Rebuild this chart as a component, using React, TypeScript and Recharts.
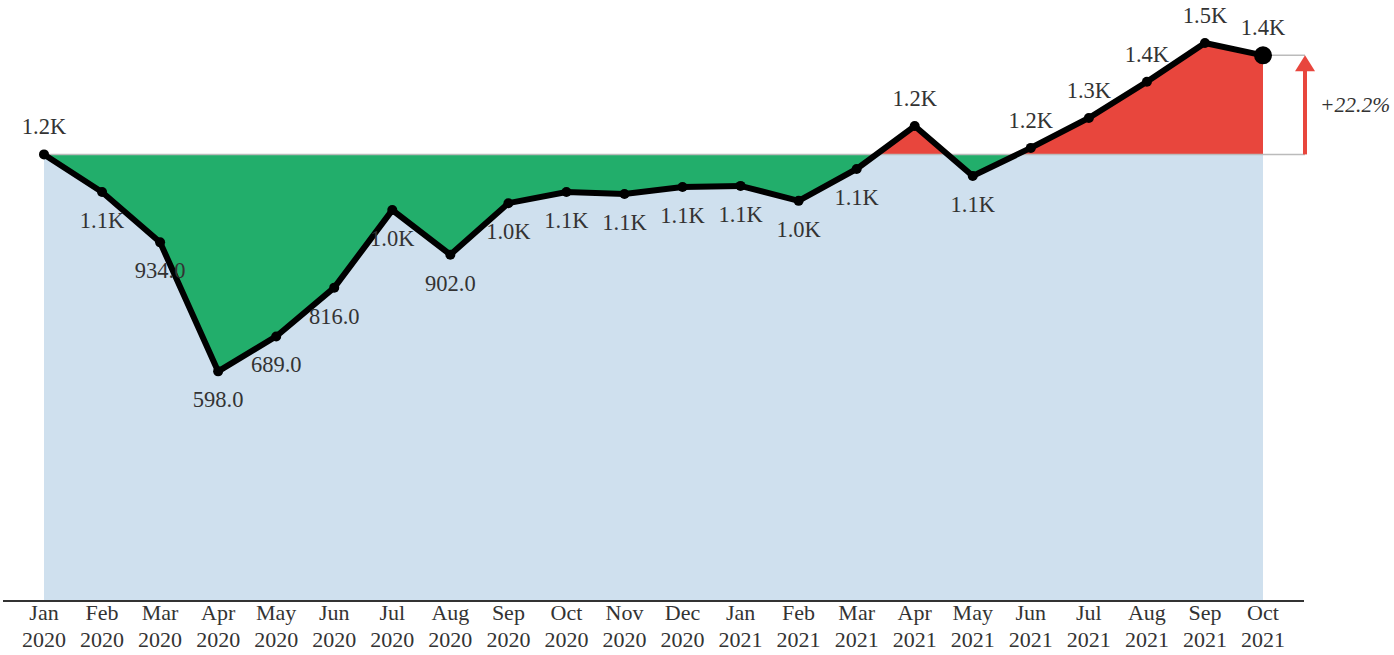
import {
  Area,
  ComposedChart,
  LabelList,
  Line,
  ReferenceLine,
  XAxis,
  YAxis,
} from "recharts";

const months = [
  "Jan", "Feb", "Mar", "Apr", "May", "Jun", "Jul", "Aug", "Sep", "Oct", "Nov", "Dec",
  "Jan", "Feb", "Mar", "Apr", "May", "Jun", "Jul", "Aug", "Sep", "Oct",
];
const years = [
  "2020", "2020", "2020", "2020", "2020", "2020", "2020", "2020", "2020", "2020", "2020", "2020",
  "2021", "2021", "2021", "2021", "2021", "2021", "2021", "2021", "2021", "2021",
];
const values = [
  1163, 1065, 934, 598, 689, 816, 1018, 902, 1036, 1065, 1060, 1078,
  1081, 1042, 1125, 1237, 1107, 1180, 1258, 1352, 1453, 1421,
];

const BASE = values[0];
const LAST = values[values.length - 1];
const change = ((LAST - BASE) / BASE) * 100;
const maxV = Math.max(...values);
const minV = Math.min(...values);
const splitOffset = (maxV - BASE) / (maxV - minV);

const data = months.map((m, i) => ({
  label: `${m} ${years[i]}`,
  value: values[i],
  base: BASE,
}));

const FONT = "'Liberation Serif', 'Times New Roman', serif";
const INK = "#333";

function fmt(v: number) {
  return v >= 1000 ? `${(v / 1000).toFixed(1)}K` : v.toFixed(1);
}

function Tick(props: any) {
  const { x, y, payload } = props;
  const [m, yr] = String(payload.value).split(" ");
  return (
    <text x={x} y={y} textAnchor="middle" fill={INK} fontFamily={FONT} fontSize={22}>
      <tspan x={x} dy={19}>{m}</tspan>
      <tspan x={x} dy={27}>{yr}</tspan>
    </text>
  );
}

function PointLabel(props: any) {
  const { x, y, value } = props;
  const above = value >= BASE;
  return (
    <text
      x={x}
      y={above ? y - 20 : y + 36}
      textAnchor="middle"
      fill={INK}
      fontFamily={FONT}
      fontSize={22.5}
    >
      {fmt(value)}
    </text>
  );
}

function Dot(props: any) {
  const { cx, cy, index } = props;
  const last = index === values.length - 1;
  return <circle key={index} cx={cx} cy={cy} r={last ? 9 : 5} fill="#000" />;
}

function ChangeMarker(props: any) {
  const { x1, y1, y2 } = props;
  const ax = x1 + 42;
  return (
    <g>
      <line x1={x1} y1={y1} x2={ax} y2={y1} stroke="#bbb" strokeWidth={1.5} />
      <line x1={x1} y1={y2} x2={ax} y2={y2} stroke="#bbb" strokeWidth={1.5} />
      <line x1={ax} y1={y1} x2={ax} y2={y2 + 14} stroke="#e8463d" strokeWidth={4} />
      <polygon points={`${ax - 10},${y2 + 16} ${ax + 10},${y2 + 16} ${ax},${y2}`} fill="#e8463d" />
      <text
        x={ax + 15}
        y={(y1 + y2) / 2 + 7}
        fill={INK}
        fontFamily={FONT}
        fontSize={21.5}
        fontStyle="italic"
      >
        {`${change >= 0 ? "+" : ""}${change.toFixed(1)}%`}
      </text>
    </g>
  );
}

export default function App() {
  return (
    <div style={{ position: "absolute", left: 0, top: 0 }}>
      <ComposedChart
        width={1394}
        height={655}
        data={data}
        margin={{ top: 25, right: 90, bottom: 0, left: 3 }}
      >
        <defs>
          <linearGradient id="splitFill" x1="0" y1="0" x2="0" y2="1">
            <stop offset={0} stopColor="#e8463d" />
            <stop offset={splitOffset} stopColor="#e8463d" />
            <stop offset={splitOffset} stopColor="#22ae6b" />
            <stop offset={1} stopColor="#22ae6b" />
          </linearGradient>
        </defs>
        <XAxis
          dataKey="label"
          interval={0}
          padding={{ left: 41, right: 41 }}
          height={54}
          tickLine={false}
          tickSize={0}
          tickMargin={0}
          axisLine={{ stroke: "#333", strokeWidth: 2 }}
          tick={<Tick />}
        />
        <YAxis hide domain={[0, 1500]} />
        <Area
          type="linear"
          dataKey="base"
          baseValue={0}
          stroke="none"
          fill="#cfe0ee"
          fillOpacity={1}
          isAnimationActive={false}
        />
        <Area
          type="linear"
          dataKey="value"
          baseValue={BASE}
          stroke="none"
          fill="url(#splitFill)"
          fillOpacity={1}
          isAnimationActive={false}
        />
        <ReferenceLine
          segment={[
            { x: data[0].label, y: BASE },
            { x: data[data.length - 1].label, y: BASE },
          ]}
          stroke="#bbb"
          strokeWidth={1.5}
        />
        <ReferenceLine
          segment={[
            { x: data[data.length - 1].label, y: BASE },
            { x: data[data.length - 1].label, y: LAST },
          ]}
          shape={<ChangeMarker />}
        />
        <Line
          type="linear"
          dataKey="value"
          stroke="#000"
          strokeWidth={6}
          dot={<Dot />}
          activeDot={false}
          isAnimationActive={false}
        >
          <LabelList dataKey="value" content={<PointLabel />} />
        </Line>
      </ComposedChart>
    </div>
  );
}
